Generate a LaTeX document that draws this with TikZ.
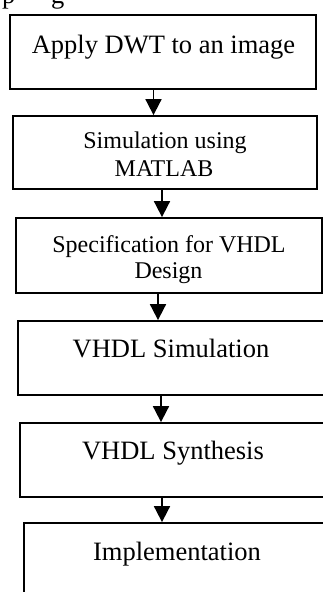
\documentclass[tikz,border=0pt]{standalone}
\usepackage{fontspec}
\setmainfont{Liberation Serif}
\usetikzlibrary{arrows.meta}
\tikzset{
  stage/.style={draw, line width=1.8pt, inner sep=0pt},
  lbl/.style={font=\fontsize{26.5}{30}\selectfont, inner sep=0pt, anchor=base},
  lblsm/.style={font=\fontsize{24}{27}\selectfont, inner sep=0pt, anchor=base},
  flow/.style={line width=1.8pt, -{Triangle[length=16pt,width=16pt]}},
}
\begin{document}
\begin{tikzpicture}[x=1pt,y=-1pt]
\useasboundingbox (0,0) rectangle (323,592);

% descenders of the caption line above, cut by the page edge
\begin{scope}
  \clip (0,0) rectangle (323,13);
  \node[lbl, anchor=base west] (capp) at (2,3) {p};
  \node[lbl, anchor=base west] (capg) at (51,3) {g};
\end{scope}

% stage boxes
\node[stage, minimum width=306pt, minimum height=74pt] (b1) at (163,52) {};
\node[stage, minimum width=304pt, minimum height=73pt] (b2) at (165,152.5) {};
\node[stage, minimum width=306pt, minimum height=75pt] (b3) at (169,255.5) {};
\node[stage, minimum width=312pt, minimum height=74pt] (b4) at (174,358) {};
\node[stage, minimum width=312pt, minimum height=74pt] (b5) at (176,460) {};
\node[stage, minimum width=312pt, minimum height=77pt] (b6) at (180,561.5) {};

% labels
\node[lbl] (t1) at (163.5,53) {Apply DWT to an image};
\node[lblsm] (t2a) at (165,148) {Simulation using};
\node[lblsm] (t2b) at (164,176) {MATLAB};
\node[lblsm] (t3a) at (169,252) {Specification for VHDL};
\node[lblsm] (t3b) at (168.5,278) {Design};
\node[lbl] (t4) at (171,357) {VHDL Simulation};
\node[lbl] (t5) at (173,459) {VHDL Synthesis};
\node[lbl] (t6) at (177,560) {Implementation};

% flow arrows
\coordinate (c1) at (153.5,0);
\coordinate (c2) at (162,0);
\coordinate (c3) at (158,0);
\coordinate (c4) at (161,0);
\coordinate (c5) at (162,0);
\draw[flow] (b1.south -| c1) -- (b2.north -| c1);
\draw[flow] (b2.south -| c2) -- (b3.north -| c2);
\draw[flow] (b3.south -| c3) -- (b4.north -| c3);
\draw[flow] (b4.south -| c4) -- (b5.north -| c4);
\draw[flow] (b5.south -| c5) -- (b6.north -| c5);
\end{tikzpicture}
\end{document}
